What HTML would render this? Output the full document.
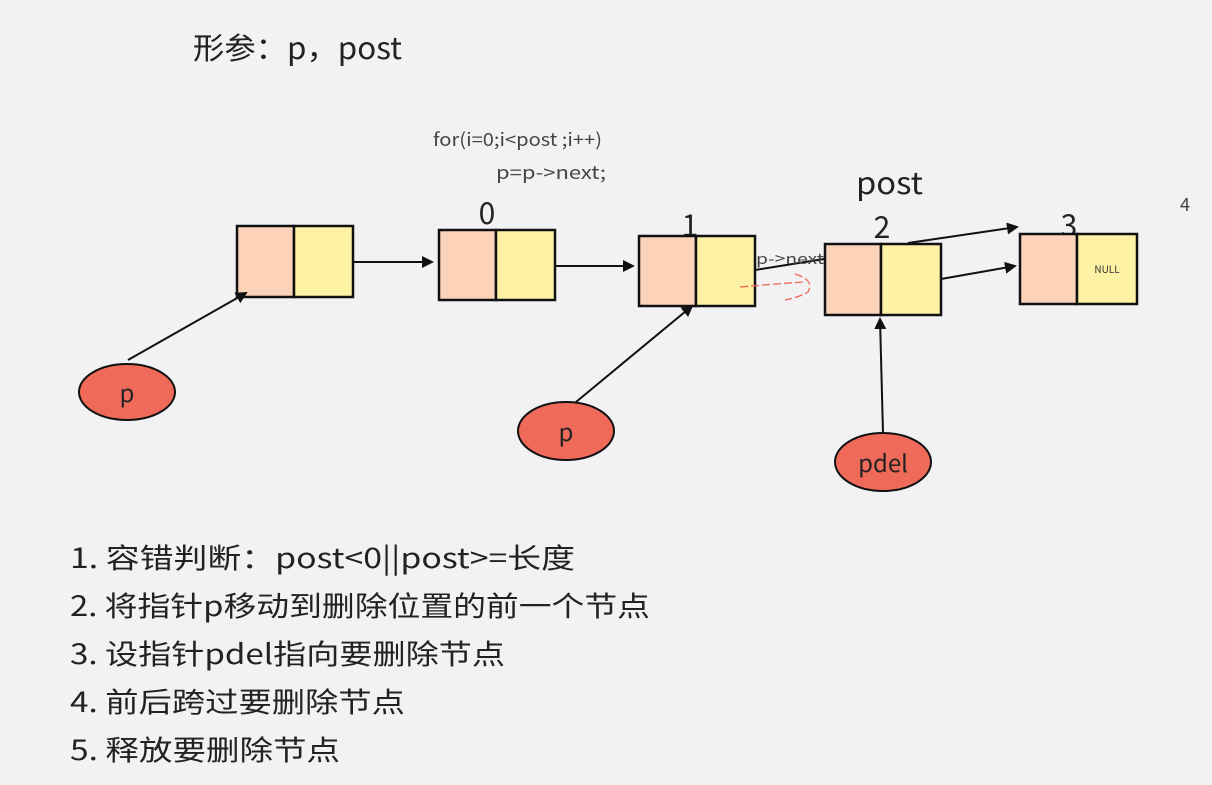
<!DOCTYPE html>
<html><head><meta charset="utf-8"><style>
html,body{margin:0;padding:0;background:#f2f2f5;}
svg{display:block;font-family:"Noto Sans CJK SC","Liberation Sans",sans-serif;}
</style></head><body>
<svg width="1212" height="785" viewBox="0 0 1212 785">
<defs><marker id="a" markerWidth="12" markerHeight="12" refX="10" refY="6" orient="auto" markerUnits="userSpaceOnUse"><path d="M0,0L12,6L0,12z" fill="#111"/></marker></defs>
<rect width="1212" height="785" fill="#f2f2f5"/>
<text x="193" y="59" font-size="30" fill="#222" textLength="209" lengthAdjust="spacingAndGlyphs">形参：p，post</text>
<text x="433" y="146" font-size="18" fill="#444" textLength="169" lengthAdjust="spacingAndGlyphs">for(i=0;i&lt;post ;i++)</text>
<text x="496" y="179" font-size="18" fill="#444" textLength="110" lengthAdjust="spacingAndGlyphs">p=p-&gt;next;</text>
<text x="856" y="194" font-size="30" fill="#222" textLength="67" lengthAdjust="spacingAndGlyphs">post</text>
<text x="1180" y="211" font-size="18" fill="#444">4</text>
<g font-size="30" fill="#222" text-anchor="middle">
<text x="487" y="224">0</text><text x="690" y="236">1</text><text x="882" y="238">2</text><text x="1069" y="236">3</text></g>
<g stroke="#111" stroke-width="2.5">
<rect x="237" y="226" width="57" height="71" fill="#fcd2b9"/><rect x="294" y="226" width="59" height="71" fill="#fdf1a3"/>
<rect x="439" y="230" width="57" height="70" fill="#fcd2b9"/><rect x="496" y="230" width="59" height="70" fill="#fdf1a3"/>
<rect x="639" y="236" width="57" height="70" fill="#fcd2b9"/><rect x="696" y="236" width="59" height="70" fill="#fdf1a3"/>
<rect x="825" y="244" width="56" height="71" fill="#fcd2b9"/><rect x="881" y="244" width="60" height="71" fill="#fdf1a3"/>
<rect x="1020" y="234" width="57" height="70" fill="#fcd2b9"/><rect x="1077" y="234" width="60" height="70" fill="#fdf1a3"/>
</g>
<text x="1107" y="273" font-size="10" fill="#333" text-anchor="middle">NULL</text>
<g stroke="#111" stroke-width="2" fill="none" marker-end="url(#a)">
<line x1="353" y1="262" x2="432" y2="262"/>
<line x1="555" y1="266" x2="633" y2="266"/>
<line x1="755" y1="270" x2="824" y2="259" marker-end="none"/>
<line x1="908" y1="243" x2="1017" y2="227"/>
<line x1="941" y1="279" x2="1015" y2="266"/>
<line x1="128" y1="360" x2="246" y2="293"/>
<line x1="576" y1="402" x2="692" y2="306"/>
<line x1="883" y1="433" x2="880" y2="319"/>
</g>
<text x="756" y="264" font-size="15" fill="#444" textLength="68" lengthAdjust="spacingAndGlyphs">p-&gt;next</text>
<path d="M740 287 Q775 284 803 282 M795 274 Q815 280 808 292 Q800 297 785 300" stroke="#ee6655" stroke-width="1.3" fill="none" stroke-dasharray="8 3"/>
<g stroke="#111" stroke-width="2" fill="#f06a5a">
<ellipse cx="127" cy="392" rx="48" ry="28"/>
<ellipse cx="566" cy="431" rx="48" ry="29"/>
<ellipse cx="883" cy="462" rx="48" ry="29"/></g>
<g font-size="24" fill="#222" text-anchor="middle">
<text x="127" y="402">p</text><text x="566" y="441">p</text><text x="883" y="472">pdel</text></g>
<g font-size="28" fill="#222" lengthAdjust="spacingAndGlyphs">
<text x="70" y="568" textLength="505" lengthAdjust="spacingAndGlyphs">1.  容错判断：post&lt;0||post&gt;=长度</text>
<text x="70" y="616" textLength="580" lengthAdjust="spacingAndGlyphs">2.  将指针p移动到删除位置的前一个节点</text>
<text x="70" y="664" textLength="435" lengthAdjust="spacingAndGlyphs">3.  设指针pdel指向要删除节点</text>
<text x="70" y="712" textLength="335" lengthAdjust="spacingAndGlyphs">4.  前后跨过要删除节点</text>
<text x="70" y="760" textLength="270" lengthAdjust="spacingAndGlyphs">5.  释放要删除节点</text>
</g>
</svg>
</body></html>
